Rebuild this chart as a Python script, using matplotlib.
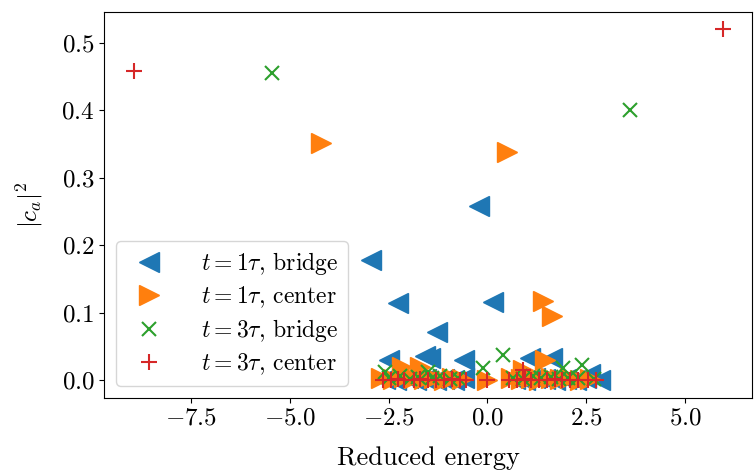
import matplotlib
matplotlib.use('Agg')
import matplotlib.pyplot as plt

plt.rcParams['font.family'] = 'serif'
plt.rcParams['font.serif'] = ['cmr10']
plt.rcParams['mathtext.fontset'] = 'cm'
plt.rcParams['axes.formatter.use_mathtext'] = True

# t = 1 tau, bridge
e_b1 = [-0.2, -2.95, -2.25, 0.15, -1.27, -2.5, -1.57, -1.45, -0.6, 1.09, 1.64, 2.6,
        -2.6, -2.3, -2.0, -1.8, -1.55, -1.3, -1.1, -0.85, -0.6,
        0.7, 0.95, 1.2, 1.45, 1.7, 2.0, 2.25, 2.5, 2.85]
c_b1 = [0.258, 0.178, 0.115, 0.116, 0.072, 0.03, 0.036, 0.033, 0.03, 0.033, 0.033, 0.01,
        0.002, 0.001, 0.003, 0.001, 0.002, 0.001, 0.002, 0.001, 0.003,
        0.002, 0.001, 0.003, 0.002, 0.001, 0.002, 0.001, 0.003, 0.0]

# t = 1 tau, center
e_c1 = [-4.2, 0.5, 1.4, 1.63, -2.15, -1.7, 1.47, 0.9,
        -2.7, -2.4, -2.1, -1.85, -1.6, -1.35, -1.1, -0.9, -0.65, 0.0,
        0.6, 0.85, 1.1, 1.3, 1.6, 1.85, 2.1, 2.35, 2.6]
c_c1 = [0.352, 0.338, 0.117, 0.096, 0.02, 0.02, 0.03, 0.015,
        0.004, 0.002, 0.005, 0.003, 0.002, 0.004, 0.001, 0.003, 0.002, 0.0,
        0.003, 0.002, 0.004, 0.001, 0.003, 0.002, 0.004, 0.001, 0.002]

# t = 3 tau, bridge
e_b3 = [-5.45, 3.6, 0.4, 2.4, 1.92, -0.1, -2.6, -1.5,
        -2.5, -2.2, -1.95, -1.75, -1.4, -1.2, -0.95, -0.75,
        0.65, 0.9, 1.15, 1.35, 1.6, 1.8, 2.05, 2.3, 2.7]
c_b3 = [0.456, 0.401, 0.037, 0.022, 0.018, 0.018, 0.012, 0.012,
        0.003, 0.006, 0.002, 0.005, 0.003, 0.006, 0.002, 0.004,
        0.004, 0.002, 0.006, 0.003, 0.005, 0.002, 0.004, 0.003, 0.002]

# t = 3 tau, center
e_c3 = [-8.95, 5.95, 0.9,
        -2.65, -2.45, -2.25, -2.1, -1.85, -1.7, -1.5, -1.3, -1.1, -0.9, -0.7, -0.55,
        0.0,
        0.55, 0.75, 0.95, 1.1, 1.3, 1.5, 1.7, 1.9, 2.1, 2.3, 2.55, 2.75]
c_c3 = [0.458, 0.52, 0.015,
        0.001, 0.0, 0.002, 0.001, 0.0, 0.002, 0.001, 0.0, 0.001, 0.002, 0.0, 0.001,
        0.0,
        0.001, 0.0, 0.002, 0.001, 0.0, 0.001, 0.002, 0.0, 0.001, 0.0, 0.001, 0.0]

fig = plt.figure(figsize=(7.55, 4.72), dpi=100)
ax = fig.add_axes([0.138, 0.157, 0.858, 0.818])

ax.plot(e_b1, c_b1, '<', ms=14, color='C0', mew=1, label=r'$t = 1\tau$, bridge')
ax.plot(e_c1, c_c1, '>', ms=14, color='C1', mew=1, label=r'$t = 1\tau$, center')
ax.plot(e_b3, c_b3, 'x', ms=10, color='C2', mew=1.5, label=r'$t = 3\tau$, bridge')
ax.plot(e_c3, c_c3, '+', ms=12, color='C3', mew=1.5, label=r'$t = 3\tau$, center')

ax.set_xlabel('Reduced energy', fontsize=19, labelpad=12)
ax.set_ylabel(r'$|c_a|^2$', fontsize=18, labelpad=12)
ax.tick_params(labelsize=18)
ax.legend(loc='lower left', fontsize=17, labelspacing=0.3, handletextpad=1.2)

fig.savefig('out.png', dpi=100)
